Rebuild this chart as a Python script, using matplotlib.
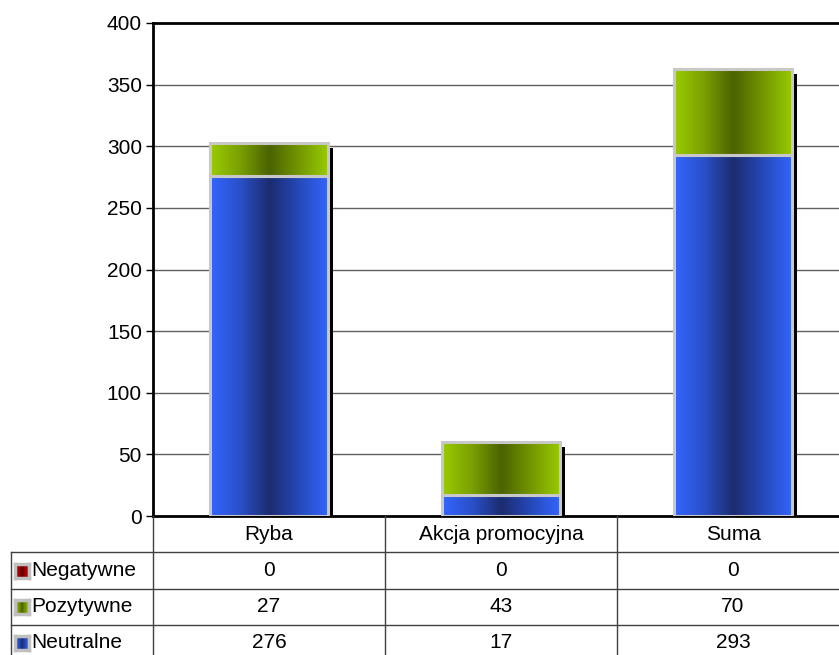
import numpy as np
import matplotlib
matplotlib.use("Agg")
import matplotlib.pyplot as plt
from matplotlib.colors import LinearSegmentedColormap
from matplotlib.patches import Rectangle
from matplotlib.lines import Line2D

plt.rcParams['font.family'] = ['Liberation Sans', 'DejaVu Sans']

categories = ["Ryba", "Akcja promocyjna", "Suma"]
series_names = ["Negatywne", "Pozytywne", "Neutralne"]
negatywne = [0, 0, 0]
pozytywne = [27, 43, 70]
neutralne = [276, 17, 293]
y_ticks = [0, 50, 100, 150, 200, 250, 300, 350, 400]

# gradient colours: bright edge, dark centre
grad = {
    "Neutralne": ["#3366FF", "#2a50c8", "#1c2c70", "#2549b8", "#3366FF"],
    "Pozytywne": ["#99CC00", "#7aa000", "#4c6200", "#739600", "#99CC00"],
    "Negatywne": ["#DD0000", "#aa0000", "#600000", "#a00000", "#DD0000"],
}
cmaps = {k: LinearSegmentedColormap.from_list(k, v) for k, v in grad.items()}
gstrip = np.linspace(0, 1, 256).reshape(1, -1)

FS = 15
W, H = 839, 655
fig = plt.figure(figsize=(W / 100, H / 100), dpi=100)
x0, x1 = 153, 849
y_top, y_bot = 23, 516
ax = fig.add_axes([x0 / W, (H - y_bot) / H, (x1 - x0) / W, (y_bot - y_top) / H])
ax.set_xlim(0, len(categories))
ax.set_ylim(0, 400)
ax.set_yticks(y_ticks)
ax.set_xticks([])
ax.tick_params(axis='y', length=5, width=1, labelsize=FS, pad=3, color='black')
ax.spines['right'].set_visible(False)
for s in ['left', 'top', 'bottom']:
    ax.spines[s].set_linewidth(2)
    ax.spines[s].set_color('black')
for t in y_ticks[1:-1]:
    ax.axhline(t, color='#606060', lw=1, zorder=0)

bw = 0.51
sx = 5 / (x1 - x0) * len(categories)   # shadow offset in data units
sy = 5 / (y_bot - y_top) * 400
stack = [("Neutralne", neutralne), ("Pozytywne", pozytywne), ("Negatywne", negatywne)]
for i, cat in enumerate(categories):
    c = i + 0.5
    total = neutralne[i] + pozytywne[i] + negatywne[i]
    ax.add_patch(Rectangle((c - bw / 2 + sx, 0), bw, total - sy,
                           facecolor='black', edgecolor='none', zorder=2))
    base = 0
    for name, vals in stack:
        v = vals[i]
        if v <= 0:
            continue
        ax.imshow(gstrip, cmap=cmaps[name], aspect='auto',
                  extent=(c - bw / 2, c + bw / 2, base, base + v),
                  zorder=3, interpolation='bilinear')
        ax.add_patch(Rectangle((c - bw / 2, base), bw, v, facecolor='none',
                               edgecolor='#C8C8C8', lw=2.2, zorder=4))
        base += v
ax.set_xlim(0, len(categories))
ax.set_ylim(0, 400)

# data table below the plot
def fx(px):
    return px / W

def fy(py):
    return 1 - py / H

col_edges = [11, 153, 385, 617, 849]
row_edges = [516, 552, 589, 625, 661]
lc = '#404040'
for j, cat in enumerate(categories):
    cx = (col_edges[j + 1] + col_edges[j + 2]) / 2
    fig.text(fx(cx), fy((row_edges[0] + row_edges[1]) / 2), cat,
             ha='center', va='center', fontsize=FS)
for k, xe in enumerate(col_edges):
    top = row_edges[1] if k == 0 else row_edges[0]
    fig.add_artist(Line2D([fx(xe), fx(xe)], [fy(top), fy(H)], color=lc, lw=1))
for r in row_edges[1:4]:
    fig.add_artist(Line2D([fx(11), fx(849)], [fy(r), fy(r)], color=lc, lw=1))

rows = [("Negatywne", negatywne), ("Pozytywne", pozytywne), ("Neutralne", neutralne)]
for r, (name, vals) in enumerate(rows):
    yc = (row_edges[r + 1] + row_edges[r + 2]) / 2
    # legend key
    kx, ks = 15, 14
    ky = yc - ks / 2
    kax = fig.add_axes([fx(kx), fy(ky + ks), ks / W, ks / H])
    kax.imshow(gstrip, cmap=cmaps[name], aspect='auto', extent=(0, 1, 0, 1))
    kax.set_xlim(0, 1)
    kax.set_ylim(0, 1)
    kax.set_xticks([])
    kax.set_yticks([])
    for sp in kax.spines.values():
        sp.set_color('#C0C0C0')
        sp.set_linewidth(2.5)
    fig.text(fx(31), fy(yc), name, ha='left', va='center', fontsize=FS)
    for j, v in enumerate(vals):
        cx = (col_edges[j + 1] + col_edges[j + 2]) / 2
        fig.text(fx(cx), fy(yc), str(v), ha='center', va='center', fontsize=FS)

fig.savefig("out.png", dpi=100)
